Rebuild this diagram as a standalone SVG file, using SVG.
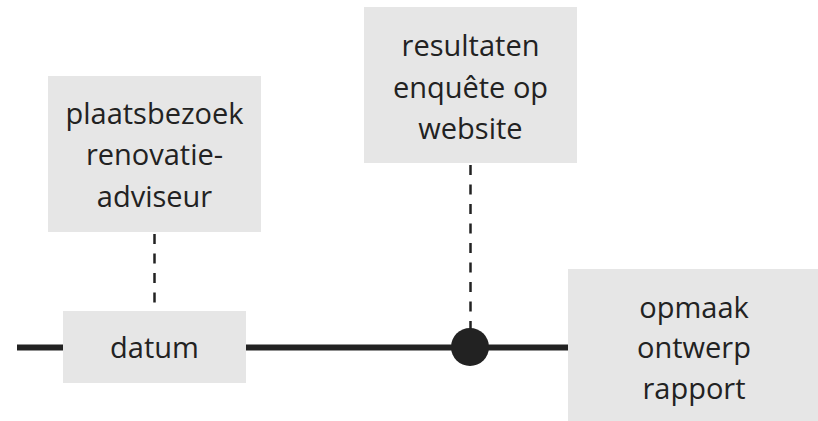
<svg xmlns="http://www.w3.org/2000/svg" width="818" height="421" viewBox="0 0 818 421">
<style>
.box{fill:#e6e6e6}
.t{font-family:"Open Sans","Noto Sans",sans-serif;font-size:29px;fill:#222;text-anchor:middle}
.main{stroke:#222;stroke-width:6;fill:none}
.dash{stroke:#222;stroke-width:2.5;stroke-dasharray:10 9.5;fill:none}
</style>
<rect width="818" height="421" fill="#fff"/>
<g id="connectors">
<line class="main" x1="17" y1="347.5" x2="568" y2="347.5"/>
<line class="dash" x1="154.5" y1="234" x2="154.5" y2="310"/>
<line class="dash" x1="470.5" y1="165" x2="470.5" y2="340"/>
<circle cx="470" cy="347" r="19" fill="#222"/>
</g>
<g id="datum">
<rect class="box" x="63" y="311" width="183" height="72"/>
<text class="t" x="154.5" y="358">datum</text>
</g>
<g id="plaatsbezoek">
<rect class="box" x="48" y="76" width="213" height="156"/>
<text class="t" x="154.5" y="124">plaatsbezoek</text>
<text class="t" x="154.5" y="165">renovatie-</text>
<text class="t" x="154.5" y="207">adviseur</text>
</g>
<g id="resultaten">
<rect class="box" x="364" y="7" width="213" height="156"/>
<text class="t" x="470.5" y="56">resultaten</text>
<text class="t" x="470.5" y="98">enquête op</text>
<text class="t" x="470.5" y="139">website</text>
</g>
<g id="opmaak">
<rect class="box" x="568" y="269" width="252" height="152"/>
<text class="t" x="694" y="318">opmaak</text>
<text class="t" x="694" y="358">ontwerp</text>
<text class="t" x="694" y="399">rapport</text>
</g>
</svg>
